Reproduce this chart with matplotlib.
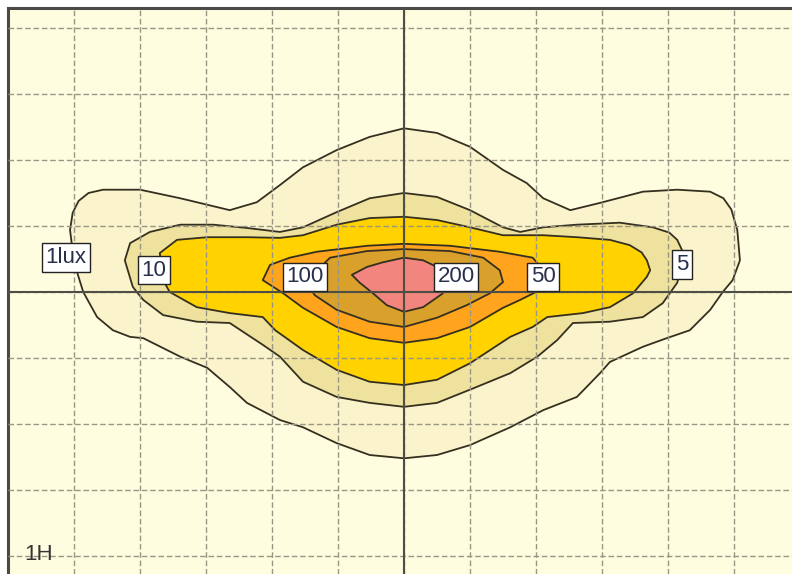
import matplotlib
matplotlib.use("Agg")
import matplotlib.pyplot as plt

# Isolux diagram, coordinates in grid units (1 unit = 1 grid cell)

# 1 lux
lux1_x = [-4.86, -5.0, -5.06, -5.02, -4.93, -4.78, -4.56, -4.0, -3.39, -2.64, -2.23, -1.88, -1.53, -1.02, -0.52, 0.0,
          0.5, 1.0, 1.5, 1.86, 2.11, 2.52, 2.97, 3.62, 4.14, 4.64, 4.84, 4.96, 5.05, 5.09, 4.98, 4.83, 4.64, 4.33,
          3.98, 3.62, 3.12, 2.97, 2.62, 2.11, 1.61, 1.0, 0.5, 0.0, -0.52, -1.02, -1.53, -1.88, -2.38, -2.64,
          -2.98, -3.39, -3.95, -4.15, -4.41, -4.65]
lux1_y = [0.0, 0.45, 0.94, 1.2, 1.38, 1.5, 1.55, 1.55, 1.42, 1.24, 1.36, 1.62, 1.89, 2.15, 2.35, 2.48,
          2.41, 2.20, 1.85, 1.65, 1.42, 1.24, 1.35, 1.52, 1.55, 1.52, 1.42, 1.25, 0.94, 0.48, 0.18, 0.0, -0.27, -0.58,
          -0.70, -0.83, -1.06, -1.23, -1.59, -1.79, -2.05, -2.32, -2.47, -2.52, -2.47, -2.29, -2.05, -1.94, -1.68, -1.44,
          -1.15, -0.98, -0.70, -0.68, -0.58, -0.38]

# 5 lux
lux5_x = [-4.23, -4.15, -3.85, -3.39, -2.89, -2.38, -1.88, -1.53, -1.02, -0.52, 0.0, 0.5, 1.0, 1.5, 1.76,
          2.11, 2.62, 3.27, 3.77, 4.02, 4.14, 4.21, 4.18, 4.14, 3.92, 3.62, 3.12, 2.56, 2.32, 2.02, 1.61, 1.0, 0.5,
          0.0, -0.52, -1.02, -1.53, -1.88, -2.14, -2.64, -3.14, -3.65, -3.95, -4.05, -4.11]
lux5_y = [0.48, 0.74, 0.91, 1.02, 1.02, 0.97, 0.91, 0.98, 1.21, 1.42, 1.50, 1.44, 1.24, 0.98, 0.91,
          0.98, 1.02, 1.05, 0.98, 0.90, 0.79, 0.64, 0.30, 0.14, -0.17, -0.38, -0.45, -0.47, -0.73, -0.98, -1.23, -1.48,
          -1.68, -1.74, -1.68, -1.59, -1.36, -0.98, -0.80, -0.47, -0.45, -0.35, -0.12, 0.0, 0.08]

# 10 lux
lux10_x = [-3.70, -3.44, -2.98, -2.38, -1.88, -1.53, -1.02, -0.52, 0.0, 0.5, 1.0, 1.5, 2.11, 2.62, 3.12,
           3.42, 3.60, 3.68, 3.73, 3.68, 3.47, 3.12, 2.71, 2.17, 1.95, 1.61, 1.0, 0.5, 0.0, -0.52, -1.02, -1.53,
           -1.95, -2.14, -2.64, -3.14, -3.55, -3.65]
lux10_y = [0.59, 0.79, 0.83, 0.83, 0.82, 0.86, 1.02, 1.12, 1.14, 1.09, 0.98, 0.86, 0.86, 0.83, 0.79,
           0.71, 0.60, 0.48, 0.33, 0.23, -0.02, -0.23, -0.32, -0.38, -0.53, -0.68, -1.08, -1.33, -1.41, -1.36, -1.18,
           -0.88, -0.58, -0.38, -0.32, -0.23, 0.0, 0.18]

# 50 lux
lux50_x = [-2.14, -2.03, -1.73, -1.32, -0.56, 0.0, 0.70, 1.45, 1.95, 2.14, 2.06, 1.76, 1.5, 1.0, 0.5,
           0.0, -0.52, -1.02, -1.53, -1.83]
lux50_y = [0.18, 0.41, 0.52, 0.61, 0.70, 0.73, 0.70, 0.61, 0.52, 0.30, 0.03, -0.12, -0.24, -0.53, -0.70,
           -0.77, -0.70, -0.53, -0.24, -0.02]

# 100 lux
lux100_x = [-1.5, -1.12, -0.56, 0.0, 0.70, 1.20, 1.45, 1.5, 1.30, 0.95, 0.5, 0.0, -0.52, -1.02, -1.35]
lux100_y = [0.15, 0.52, 0.62, 0.65, 0.62, 0.52, 0.33, 0.15, -0.02, -0.20, -0.39, -0.53, -0.45, -0.27, -0.05]

# 200 lux
lux200_x = [-0.79, -0.56, -0.32, 0.0, 0.29, 0.50, 0.62, 0.59, 0.29, 0.0, -0.26, -0.47, -0.67]
lux200_y = [0.26, 0.38, 0.45, 0.52, 0.48, 0.38, 0.15, -0.02, -0.23, -0.30, -0.20, -0.02, 0.14]

level_colors = ['#fbf3cb', '#eee29e', '#ffd200', '#ffa41c', '#d9a12c', '#f2857e']

label_text = ['1lux', '10', '100', '200', '50', '5']
label_x = [-5.12, -3.79, -1.5, 0.79, 2.11, 4.21]
label_y = [0.52, 0.33, 0.23, 0.23, 0.23, 0.42]

fig = plt.figure(figsize=(7.92, 5.74), dpi=100)
fig.patch.set_facecolor('white')
ax = fig.add_axes([8 / 792, 0, 784 / 792, 566 / 574])
ax.set_facecolor('#fffde0')
ax.set_xlim(-6.0, 5.879)
ax.set_ylim(-4.273, 4.303)

shapes = [(lux1_x, lux1_y), (lux5_x, lux5_y), (lux10_x, lux10_y),
          (lux50_x, lux50_y), (lux100_x, lux100_y), (lux200_x, lux200_y)]
for (xs, ys), col in zip(shapes, level_colors):
    ax.fill(xs, ys, facecolor=col, edgecolor='#352f20', lw=1.3, joinstyle='round', zorder=1)

# grid and centre axes
ax.set_xticks(range(-5, 6))
ax.set_yticks(range(-4, 5))
ax.tick_params(length=0, labelbottom=False, labelleft=False)
ax.set_axisbelow(False)
ax.grid(True, color='#989684', lw=1.0, linestyle=(0, (4, 2)))
ax.axhline(0, color='#4f4e44', lw=1.5, zorder=3)
ax.axvline(0, color='#4f4e44', lw=1.5, zorder=3)

for side in ['right', 'bottom']:
    ax.spines[side].set_visible(False)
for side in ['left', 'top']:
    ax.spines[side].set_color('#4a4a48')
    ax.spines[side].set_linewidth(2.2)

for t, x, y in zip(label_text, label_x, label_y):
    ax.text(x, y, t, ha='center', va='center', fontsize=16, family='Liberation Sans',
            color='#26304a', zorder=5,
            bbox=dict(boxstyle='square,pad=0.17', fc='white', ec='#222222', lw=1.0))

ax.text(-5.53, -3.98, '1H', ha='center', va='center', fontsize=16, family='Liberation Sans',
        color='#333333', zorder=5)

fig.savefig('out.png', dpi=100)
